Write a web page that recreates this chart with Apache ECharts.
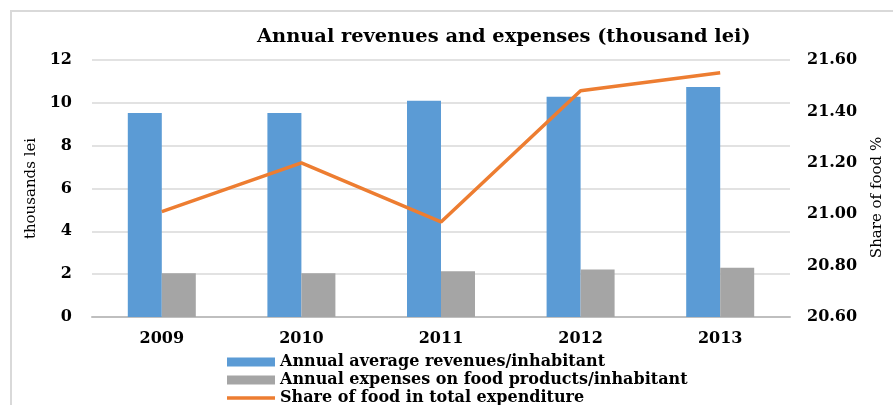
<!DOCTYPE html>
<html>
<head>
<meta charset="utf-8">
<script src="https://cdn.jsdelivr.net/npm/echarts@6/dist/echarts.min.js"></script>
<style>
  html, body { margin: 0; padding: 0; background: #fff; }
  #frame {
    position: absolute; left: 10px; top: 10px; width: 900px; height: 420px;
    border: 2px solid #d9d9d9; box-sizing: border-box;
  }
  #chart { position: absolute; left: 0; top: 0; width: 893px; height: 405px; }
</style>
</head>
<body>
<div id="frame"></div>
<div id="chart"></div>
<script>
// years on the x axis
const years = ["2009", "2010", "2011", "2012", "2013"];
// thousand lei per inhabitant
const revenues = [9.53, 9.53, 10.1, 10.28, 10.74];
const foodExpenses = [2.04, 2.04, 2.14, 2.22, 2.3];
// share of food in total expenditure, %
const foodShare = [21.01, 21.2, 20.97, 21.48, 21.55];

const serif = "DejaVu Serif";
const names = [
  "Annual average revenues/inhabitant",
  "Annual expenses on food products/inhabitant",
  "Share of food in total expenditure",
];

// one legend per row so they stack without wrapping
function legendRow(name, top, iconH) {
  return {
    orient: "vertical",
    left: 227,
    top: top,
    padding: 0,
    icon: "rect",
    itemWidth: 48,
    itemHeight: iconH,
    textStyle: { fontFamily: serif, fontWeight: "bold", fontSize: 16, color: "#000", lineHeight: 18 },
    data: [name],
  };
}

const chart = echarts.init(document.getElementById("chart"));
chart.setOption({
  animation: false,
  title: {
    text: "Annual revenues and expenses (thousand lei)",
    left: 257,
    top: 27,
    padding: 0,
    textStyle: { fontFamily: serif, fontWeight: "bold", fontSize: 19.4, color: "#000" },
  },
  grid: { left: 92, right: 96, top: 60, bottom: 88 },
  legend: [
    legendRow(names[0], 353, 9),
    legendRow(names[1], 371, 9),
    legendRow(names[2], 389, 3.5),
  ],
  xAxis: {
    type: "category",
    data: years,
    axisLine: { lineStyle: { color: "#bfbfbf", width: 2 } },
    axisTick: { length: 5, lineStyle: { color: "#bfbfbf" } },
    axisLabel: { fontFamily: serif, fontWeight: "bold", fontSize: 16, color: "#000", margin: 14 },
  },
  yAxis: [
    {
      type: "value",
      min: 0,
      max: 12,
      interval: 2,
      name: "thousands lei",
      nameLocation: "middle",
      nameRotate: 90,
      nameGap: 53,
      nameTextStyle: { fontFamily: serif, fontSize: 15, color: "#000" },
      axisLine: { show: false },
      axisTick: { show: false },
      splitLine: { lineStyle: { color: "#d9d9d9", width: 1.5 } },
      axisLabel: { fontFamily: serif, fontWeight: "bold", fontSize: 16, color: "#000", margin: 20 },
    },
    {
      type: "value",
      min: 20.6,
      max: 21.6,
      interval: 0.2,
      name: "Share of food %",
      nameLocation: "middle",
      nameRotate: 90,
      nameGap: 80,
      nameTextStyle: { fontFamily: serif, fontSize: 15, color: "#000", padding: [0, 18, 0, 0] },
      axisLine: { show: false },
      axisTick: { show: false },
      splitLine: { show: false },
      axisLabel: {
        fontFamily: serif, fontWeight: "bold", fontSize: 16, color: "#000", margin: 17,
        formatter: (v) => v.toFixed(2),
      },
    },
  ],
  series: [
    {
      name: names[0],
      type: "bar",
      data: revenues,
      barWidth: 34,
      barGap: "0%",
      itemStyle: { color: "#5b9bd5" },
    },
    {
      name: names[1],
      type: "bar",
      data: foodExpenses,
      barWidth: 34,
      barGap: "0%",
      itemStyle: { color: "#a5a5a5" },
    },
    {
      name: names[2],
      type: "line",
      yAxisIndex: 1,
      data: foodShare,
      symbol: "none",
      lineStyle: { color: "#ed7d31", width: 3.5 },
      itemStyle: { color: "#ed7d31" },
    },
  ],
});
</script>
</body>
</html>
